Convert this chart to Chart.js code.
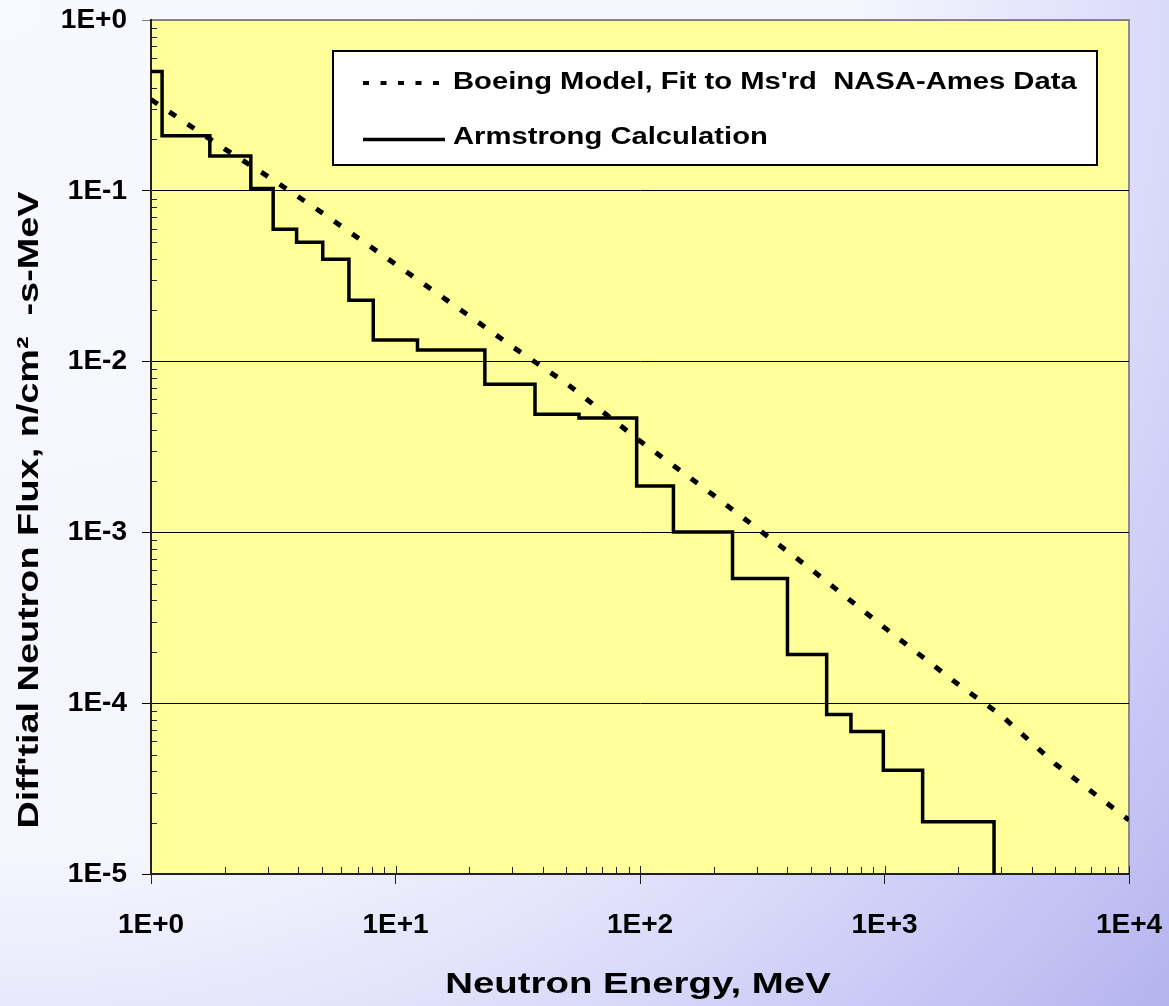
<!DOCTYPE html>
<html>
<head>
<meta charset="utf-8">
<script src="https://cdn.jsdelivr.net/npm/chart.js@4.4.1/dist/chart.umd.min.js"></script>
<style>
  html, body { margin: 0; padding: 0; }
  body {
    width: 1169px; height: 1006px; overflow: hidden;
    background: radial-gradient(circle farthest-corner at 0 0,
      #f8f8ff 0%, #f5f5fe 56%, #dcdcfa 74%, #c8c8f6 87%, #b4b4ee 100%);
  }
  #wrap { position: relative; width: 1169px; height: 1006px; }
</style>
</head>
<body>
<div id="wrap"><canvas id="c" width="1169" height="1006"></canvas></div>
<script>
const FONT = '"Liberation Sans", Arial, Helvetica, sans-serif';

// Armstrong calculation: histogram bins (lower edge, MeV) and flux over each bin
const armstrongEnergy = [1, 1.11, 1.74, 2.56, 3.16, 3.94, 5.04, 6.45, 8.11, 12.3, 23.2,
                         37.2, 56.3, 96.9, 137, 239, 401, 580, 729, 989, 1432, 2805];
const armstrongFlux = [0.5, 0.21, 0.16, 0.103, 0.0595, 0.050, 0.0397, 0.0229, 0.0134, 0.0117, 0.00736,
                       0.00491, 0.00468, 0.00187, 0.001005, 0.000538, 0.000193, 8.6e-5, 6.82e-5, 4.05e-5, 2.02e-5, 1e-5];

// Boeing model fitted to measured NASA-Ames data
const boeingEnergy = [1, 2, 3, 5, 10, 20, 30, 50, 100, 200, 300, 500, 1000, 2000, 3000, 5000, 10000];
const boeingFlux = [0.342, 0.176, 0.1216, 0.0745, 0.0372, 0.01854, 0.01227, 0.00746, 0.00343,
                    0.00165, 0.00106, 6.1e-4, 2.77e-4, 1.29e-4, 8.5e-5, 4.4e-5, 2.07e-5];

const xTickValues = [1, 10, 100, 1000, 10000];
const xTickLabels = ['1E+0', '1E+1', '1E+2', '1E+3', '1E+4'];
const yTickValues = [1e-5, 1e-4, 1e-3, 1e-2, 1e-1, 1];
const yTickLabels = ['1E-5', '1E-4', '1E-3', '1E-2', '1E-1', '1E+0'];

const seriesNames = ["Boeing Model, Fit to Ms'rd  NASA-Ames Data", 'Armstrong Calculation'];
const xTitle = 'Neutron Energy, MeV';
const yTitle = "Diff'tial Neutron Flux, n/cm\u00B2  -s-MeV";

const toPoints = (xs, ys) => xs.map((x, i) => ({ x, y: ys[i] }));

// Draw text widened horizontally (the labels use a broad bold face)
function wideText(ctx, text, x, y, sx, align) {
  ctx.save();
  ctx.translate(x, y);
  ctx.scale(sx, 1);
  ctx.textAlign = align;
  ctx.textBaseline = 'alphabetic';
  ctx.fillText(text, 0, 0);
  ctx.restore();
}

// Fixed axis box sizes; tick labels are allowed to overhang the plot edges
function fixAxis(size) {
  return s => {
    if (s.isHorizontal()) s.height = size; else s.width = size;
    s.paddingTop = s.paddingBottom = s.paddingLeft = s.paddingRight = 0;
  };
}

const decor = {
  id: 'decor',
  beforeDraw(chart) {
    const { ctx, chartArea: a } = chart;
    ctx.save();
    ctx.fillStyle = '#ffff99';
    ctx.fillRect(a.left, a.top, a.right - a.left, a.bottom - a.top);
    ctx.strokeStyle = '#8a8a8a';
    ctx.lineWidth = 2;
    ctx.beginPath();
    ctx.moveTo(a.left, a.top);
    ctx.lineTo(a.right, a.top);
    ctx.lineTo(a.right, a.bottom);
    ctx.stroke();
    ctx.restore();
  },
  beforeDatasetsDraw(chart) {
    const { ctx, chartArea: a, scales: { x, y } } = chart;
    ctx.save();
    ctx.strokeStyle = '#222';
    ctx.lineWidth = 1;
    ctx.beginPath();
    // minor ticks along the energy axis, pointing into the plot
    for (let d = 0; d < 4; d++) {
      for (let k = 2; k <= 9; k++) {
        const px = Math.round(x.getPixelForValue(k * Math.pow(10, d))) + 0.5;
        ctx.moveTo(px, a.bottom);
        ctx.lineTo(px, a.bottom - 7);
      }
    }
    // inner half of the major energy ticks
    xTickValues.forEach(v => {
      const px = Math.round(x.getPixelForValue(v)) + 0.5;
      ctx.moveTo(px, a.bottom);
      ctx.lineTo(px, a.bottom - 8);
    });
    // minor ticks along the flux axis
    for (let d = -5; d < 0; d++) {
      for (let k = 2; k <= 9; k++) {
        const py = Math.round(y.getPixelForValue(k * Math.pow(10, d))) + 0.5;
        ctx.moveTo(a.left, py);
        ctx.lineTo(a.left + 6, py);
      }
    }
    ctx.stroke();
    ctx.restore();
  },
  afterDraw(chart) {
    const { ctx } = chart;
    ctx.save();

    // legend box
    ctx.fillStyle = '#ffffff';
    ctx.fillRect(333, 51, 764, 114);
    ctx.strokeStyle = '#000';
    ctx.lineWidth = 2;
    ctx.strokeRect(333, 51, 764, 114);

    ctx.lineWidth = 4;
    ctx.lineCap = 'butt';
    ctx.setLineDash([6, 11.5]);
    ctx.beginPath();
    ctx.moveTo(363, 83);
    ctx.lineTo(445, 83);
    ctx.stroke();
    ctx.setLineDash([]);
    ctx.lineWidth = 3.5;
    ctx.beginPath();
    ctx.moveTo(363, 139.5);
    ctx.lineTo(445, 139.5);
    ctx.stroke();

    ctx.fillStyle = '#000';
    ctx.font = 'bold 23px ' + FONT;
    wideText(ctx, seriesNames[0], 453, 89, 1.27, 'left');
    wideText(ctx, seriesNames[1], 453, 144, 1.27, 'left');

    // axis titles
    ctx.font = 'bold 30px ' + FONT;
    wideText(ctx, xTitle, 638, 993, 1.28, 'center');

    ctx.translate(37.5, 510);
    ctx.rotate(-Math.PI / 2);
    wideText(ctx, yTitle, 0, 0, 1.26, 'center');
    ctx.restore();
  }
};

new Chart(document.getElementById('c'), {
  type: 'line',
  data: {
    datasets: [
      {
        label: seriesNames[1],
        data: toPoints(armstrongEnergy, armstrongFlux),
        stepped: 'before',
        borderColor: '#000',
        borderWidth: 3.5,
        pointRadius: 0,
        fill: false
      },
      {
        label: seriesNames[0],
        data: toPoints(boeingEnergy, boeingFlux),
        borderColor: '#000',
        borderWidth: 5,
        borderDash: [8, 14],
        borderCapStyle: 'butt',
        tension: 0,
        pointRadius: 0,
        fill: false
      }
    ]
  },
  options: {
    responsive: false,
    animation: false,
    devicePixelRatio: 1,
    layout: { padding: { top: 20, right: 40, left: 0, bottom: 0 } },
    plugins: { legend: { display: false }, tooltip: { enabled: false } },
    scales: {
      x: {
        type: 'logarithmic',
        min: 1,
        max: 10000,
        afterBuildTicks: s => { s.ticks = xTickValues.map(v => ({ value: v })); },
        afterFit: fixAxis(132),
        ticks: {
          autoSkip: false,
          maxRotation: 0,
          minRotation: 0,
          padding: 24,
          color: '#000',
          font: { family: FONT, size: 28, weight: 'bold' },
          callback: (v, i) => xTickLabels[i]
        },
        grid: { drawOnChartArea: false, drawTicks: true, tickLength: 10, color: '#222', lineWidth: 1 },
        border: { color: '#222', width: 2 }
      },
      y: {
        type: 'logarithmic',
        min: 1e-5,
        max: 1,
        afterBuildTicks: s => { s.ticks = yTickValues.map(v => ({ value: v })); },
        afterFit: fixAxis(151),
        ticks: {
          autoSkip: false,
          padding: 15,
          color: '#000',
          font: { family: FONT, size: 28, weight: 'bold' },
          callback: (v, i) => yTickLabels[i]
        },
        grid: {
          drawTicks: true,
          tickLength: 9,
          lineWidth: 1,
          color: c => (c.tick && c.tick.value === 1) ? '#7a7a7a' : '#000'
        },
        border: { color: '#222', width: 2 }
      }
    }
  },
  plugins: [decor]
});
</script>
</body>
</html>
